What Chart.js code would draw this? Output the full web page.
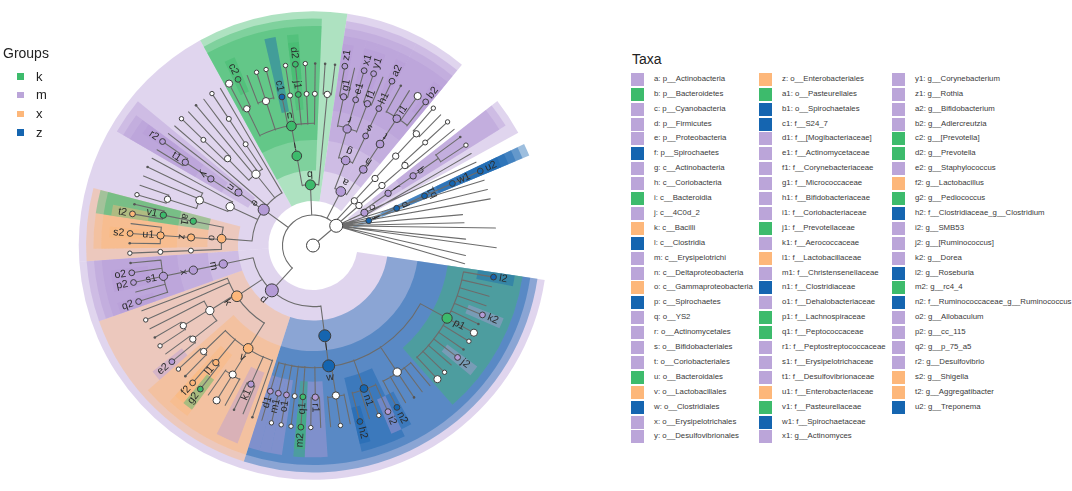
<!DOCTYPE html>
<html>
<head>
<meta charset="utf-8">
<script src="https://cdn.jsdelivr.net/npm/chart.js@4.4.1/dist/chart.umd.min.js"></script>
<style>
  html, body { margin:0; padding:0; background:#fff; }
  body { width:1072px; height:491px; position:relative; overflow:hidden; font-family:"Liberation Sans", Arial, sans-serif; }
  #cw { position:absolute; left:0; top:0; width:626px; height:491px; }
  .t { position:absolute; white-space:nowrap; }
  .sw { position:absolute; }
</style>
</head>
<body>
<div id="cw"><canvas id="clado" width="626" height="491"></canvas></div>
<div id="legends"></div>
<script>
// ---------------- data ----------------
const groupNames = ['k', 'm', 'x', 'z'];

const taxaCodes = ['a','b','c','d','e','f','g','h','i','j','k','l','m','n','o','p','q','r','s','t','u','v','w','x','y',
  'z','a1','b1','c1','d1','e1','f1','g1','h1','i1','j1','k1','l1','m1','n1','o1','p1','q1','r1','s1','t1','u1','v1','w1','x1',
  'y1','z1','a2','b2','c2','d2','e2','f2','g2','h2','i2','j2','k2','l2','m2','n2','o2','p2','q2','r2','s2','t2','u2'];

const taxaNames = ['p__Actinobacteria','p__Bacteroidetes','p__Cyanobacteria','p__Firmicutes','p__Proteobacteria','p__Spirochaetes',
  'c__Actinobacteria','c__Coriobacteria','c__Bacteroidia','c__4C0d_2','c__Bacilli','c__Clostridia','c__Erysipelotrichi',
  'c__Deltaproteobacteria','c__Gammaproteobacteria','c__Spirochaetes',
  'o__YS2','o__Actinomycetales','o__Bifidobacteriales','o__Coriobacteriales','o__Bacteroidales','o__Lactobacillales',
  'o__Clostridiales','o__Erysipelotrichales','o__Desulfovibrionales','o__Enterobacteriales','o__Pasteurellales','o__Spirochaetales',
  'f__S24_7','f__[Mogibacteriaceae]','f__Actinomycetaceae','f__Corynebacteriaceae','f__Micrococcaceae','f__Bifidobacteriaceae',
  'f__Coriobacteriaceae','f__Prevotellaceae','f__Aerococcaceae','f__Lactobacillaceae','f__Christensenellaceae','f__Clostridiaceae',
  'f__Dehalobacteriaceae','f__Lachnospiraceae','f__Peptococcaceae','f__Peptostreptococcaceae','f__Erysipelotrichaceae',
  'f__Desulfovibrionaceae','f__Enterobacteriaceae','f__Pasteurellaceae','f__Spirochaetaceae',
  'g__Actinomyces','g__Corynebacterium','g__Rothia','g__Bifidobacterium','g__Adlercreutzia','g__[Prevotella]','g__Prevotella',
  'g__Staphylococcus','g__Lactobacillus','g__Pediococcus','f__Clostridiaceae_g__Clostridium','g__SMB53','g__[Ruminococcus]',
  'g__Dorea','g__Roseburia','g__rc4_4','f__Ruminococcaceae_g__Ruminococcus','g__Allobaculum','g__cc_115','g__p_75_a5',
  'g__Desulfovibrio','g__Shigella','g__Aggregatibacter','g__Treponema'];

const taxaGroups = ['m','k','m','m','m','z',
  'm','m','k','m','x','z','m','m','x','z',
  'm','m','m','m','k','x','z','m','m','x','k','z',
  'z','m','m','m','m','m','m','k','m','x','m','z','m','k','k','m','m','m','x','k','z',
  'm','m','m','m','m','k','k','m','x','k','z','m','m','m','z','k','z','m','m','m','m','x','x','z'];

// Lineages (phylum/.../leaf), clockwise leaf order. Labelled tokens are taxa codes;
// unlabelled taxa: '*' non-biomarker node, '+' abundant non-biomarker, '.' rare, '-' not drawn
const lineages = [
  // Firmicutes - Clostridia
  'd/l/w/p1/l2','d/l/w/p1/-g1','d/l/w/p1/-g2','d/l/w/p1/-g3','d/l/w/p1/k2','d/l/w/p1/.g4','d/l/w/p1/+g5',
  'd/l/w/p1/*g6','d/l/w/p1/.g7','d/l/w/p1/j2','d/l/w/p1/-g8','d/l/w/p1/*g9','d/l/w/p1/+g10',
  'd/l/w/+Rum/-g1','d/l/w/+Rum/-g2','d/l/w/+Rum/.g3','d/l/w/+Rum/-g4','d/l/w/+Rum/n2',
  'd/l/w/n1/i2','d/l/w/n1/*g1','d/l/w/n1/-g2','d/l/w/n1/h2',
  'd/l/w/+Fa/-g1','d/l/w/+Fa/*g2','d/l/w/+Fa/-g3',
  'd/l/w/r1/-g1','d/l/w/r1/*g2',
  'd/l/w/q1/m2',
  'd/l/w/*Fb/*g1',
  'd/l/w/o1/*g1',
  'd/l/w/m1/*g1',
  'd/l/w/d1/-g1',
  // Firmicutes - Bacilli
  'd/k/v/-Car/.g1',
  'd/k/v/k1/-g1','d/k/v/k1/.g2',
  'd/k/v/+Str/-g1','d/k/v/+Str/+g2','d/k/v/+Str/-g3',
  'd/k/v/l1/g2','d/k/v/l1/f2',
  'd/k/v/*Ent/.g1','d/k/v/*Ent/*g2',
  'd/k/*Bac/*Sta/e2','d/k/*Bac/*Sta/-g1',
  'd/k/*Bac/*Bcc/*g1','d/k/*Bac/*Bcc/.g2',
  'd/k/*Bac/-Pla/-g1',
  'd/k/-Gem/-Gem/*g1',
  'd/k/-Tur/-Tur/-g1',
  // Firmicutes - Erysipelotrichi
  'd/m/x/s1/q2','d/m/x/s1/-g1','d/m/x/s1/p2','d/m/x/s1/o2','d/m/x/s1/.g2',
  // Proteobacteria
  'e/o/*Pse/*Mor/*g1',
  'e/o/z/u1/.g1','e/o/z/u1/s2','e/o/z/u1/-g2',
  'e/o/a1/v1/t2','e/o/a1/v1/.g1',
  'e/*Bet/*Bur/*Alc/*g1','e/*Bet/*Bur/*Alc/-g2','e/*Bet/*Bur/-Com/-g1','e/*Bet/*Bur/-Oxa/.g1','e/*Bet/-Nei/-Nei/-g1',
  'e/n/y/t1/-g1','e/n/y/t1/r2','e/n/-Des/-Des/-g1',
  'e/-Eps/-Cam/-Cam/-g1',
  'e/*Alp/*Rhi/*Bra/*g1','e/*Alp/*Rhi/-Bru/-g1','e/*Alp/-RF3/-f/.g1','e/*Alp/-Ric/-f/-g1','e/*Alp/*Sph/*f/*g1',
  'e/-TA1/-o/-f/-g1',
  // Bacteroidetes
  'b/i/u/+Par/+g1','b/i/u/+Par/c2',
  'b/i/u/*Por/-g1','b/i/u/*Por/*g2','b/i/u/*Por/*g3',
  'b/i/u/c1',
  'b/i/u/*Bac/*g1',
  'b/i/u/j1/d2',
  'b/i/u/*Rik/*g1',
  'b/i/u/*Odo/.g1',
  'b/-Fla/-o/*f/.g1','b/-Fla/-o/*f/.g2',
  // Actinobacteria
  'a/g/r/g1/z1','a/g/r/g1/-g1',
  'a/g/r/e1/x1',
  'a/g/r/f1/y1','a/g/r/f1/-g1',
  'a/g/s/h1/a2',
  'a/h/t/i1/.g1','a/h/t/i1/-g2','a/h/t/i1/+g3','a/h/t/i1/b2',
  // other phyla
  '*Ten/*c/*o/*f/*g1','*Ten/*c/*o/*f/-g2',
  '*Ver/*c/*o/*f/*g1','*Ver/*c/*o/-f2/-g1',
  'c/j/q/-f/.g1','c/j/q/-f/*g2','c/-Chl/-o/-f/-g1',
  '-TM7/-c/-o/-f/-g1',
  'f/p/b1/w1/u2',
  '-P1/-c/-o/-f/-g1','-P2/-c/-o/-f/-g1','-P3/-c/-o/-f/-g1','-P4/-c/-o/-f','-P5/-c/-o/-f',
  '-P6/-c/-o/-f/-g1','-P7/-c/-o/-f','-P8/-c/-o/-f/-g1','-P9/-c/-o/-f','-P10/-c/-o/-f'
];

// ---------------- styles / layout constants ----------------
const groupColors = { k:'#3dbb6c', m:'#b49bd6', x:'#fdb77a', z:'#1565b0' };
const SHADE_ALPHA = 0.42;
const LEVEL = 31.3;
const FIRST_LEAF_ANGLE = 10;
const OUTER = { 2:240, 3:232.5, 4:225, 5:217, 6:209 };
const INNER_OFFSET = 17;

function hexA(hex, a) {
  const n = parseInt(hex.slice(1), 16);
  return 'rgba(' + ((n >> 16) & 255) + ',' + ((n >> 8) & 255) + ',' + (n & 255) + ',' + a + ')';
}

// ---------------- build tree ----------------
const codeIndex = {};
taxaCodes.forEach((c, i) => codeIndex[c] = i);

function makeNode(token, depth, parent) {
  let kind, code = null, group = null;
  const p = token[0];
  if (p === '*') kind = 'white';
  else if (p === '+') kind = 'big';
  else if (p === '.') kind = 'dot';
  else if (p === '-') kind = 'hidden';
  else { kind = 'bio'; code = token; group = taxaGroups[codeIndex[token]]; }
  return { token, depth, parent, children: [], kind, code, group };
}

const root = makeNode('*root', 0, null);
const kingdom = makeNode('*Bacteria', 1, root);
root.children.push(kingdom);
const byPath = new Map();
const STEP = 360 / lineages.length;

lineages.forEach((lin, i) => {
  let parent = kingdom, path = '';
  lin.split('/').forEach((tok, j) => {
    path += '/' + tok;
    let nd = byPath.get(path);
    if (!nd) { nd = makeNode(tok, j + 2, parent); byPath.set(path, nd); parent.children.push(nd); }
    parent = nd;
  });
  parent.angle = FIRST_LEAF_ANGLE + i * STEP;
});

const allNodes = [];
function layout(nd) {
  allNodes.push(nd);
  nd.r = nd.depth * LEVEL;
  if (!nd.children.length) { nd.leaves = 1; nd.amin = nd.amax = nd.angle; }
  else {
    nd.children.forEach(layout);
    nd.angle = nd.children.reduce((s, c) => s + c.angle, 0) / nd.children.length;
    nd.leaves = nd.children.reduce((s, c) => s + c.leaves, 0);
    nd.amin = Math.min(...nd.children.map(c => c.amin));
    nd.amax = Math.max(...nd.children.map(c => c.amax));
  }
  if (nd.depth === 0) nd.angle = 0;
}
layout(root);

function nodeSize(nd) {
  if (nd.kind === 'hidden') return 0;
  if (nd.kind === 'dot') return 1.3;
  if (!nd.children.length) {
    if (nd.kind === 'big') return 3.6;
    if (nd.kind === 'white') return 2.2;
    return 2.9;
  }
  const s = Math.min(6.5, 2.5 + 0.7 * Math.log2(nd.leaves));
  return nd.kind === 'bio' ? Math.max(2.9, s) : s;
}
allNodes.forEach(nd => nd.size = nodeSize(nd));

function polar(r, deg) {
  const t = deg * Math.PI / 180;
  return { x: r * Math.cos(t), y: -r * Math.sin(t) };
}

// points for the scatter dataset
const visible = allNodes.filter(nd => nd.kind !== 'hidden').sort((a, b) => a.size - b.size);
const pts = visible.map(nd => polar(nd.r, nd.angle));
const radii = visible.map(nd => nd.size);
const fills = visible.map(nd => nd.kind === 'bio' ? groupColors[nd.group] : (nd.kind === 'dot' ? '#555' : '#fff'));
const strokes = visible.map(nd => nd.kind === 'dot' ? '#555' : '#3c3c3c');
const bws = visible.map(nd => nd.kind === 'dot' ? 0 : 1);

const bioNodes = allNodes.filter(nd => nd.kind === 'bio');
const shades = bioNodes.slice().sort((a, b) => a.depth - b.depth).map(nd => ({
  a0: nd.amin - STEP / 2, a1: nd.amax + STEP / 2,
  r0: nd.r - INNER_OFFSET, r1: OUTER[nd.depth], g: nd.group
}));

function chainEnd(nd) {
  let cur = nd;
  while (cur.kind === 'hidden' && cur.children.length === 1) cur = cur.children[0];
  return (cur.kind === 'hidden' && cur.children.length === 0) ? cur : nd;
}

// ---------------- plugin ----------------
const cladoPlugin = {
  id: 'clado',
  beforeDatasetsDraw(chart) {
    const ctx = chart.ctx, xs = chart.scales.x, ys = chart.scales.y;
    const cx = xs.getPixelForValue(0), cy = ys.getPixelForValue(0);
    const u = xs.getPixelForValue(1) - cx;
    const rad = d => d * Math.PI / 180;
    const P = (r, deg) => { const p = polar(r, deg); return [xs.getPixelForValue(p.x), ys.getPixelForValue(p.y)]; };
    ctx.save();
    shades.forEach(s => {
      ctx.beginPath();
      ctx.arc(cx, cy, s.r1 * u, rad(s.a0), rad(s.a1), false);
      ctx.arc(cx, cy, s.r0 * u, rad(s.a1), rad(s.a0), true);
      ctx.closePath();
      ctx.fillStyle = hexA(groupColors[s.g], SHADE_ALPHA);
      ctx.fill();
    });
    ctx.strokeStyle = '#6c6c6c';
    ctx.lineWidth = 1.1;
    ctx.lineCap = 'round';
    ctx.beginPath();
    const walk = nd => {
      nd.children.forEach(ch => {
        if (nd.depth === 0) {
          ctx.moveTo(...P(0, 0)); ctx.lineTo(...P(ch.r, ch.angle));
        } else if (nd.depth === 1 && ch.angle > nd.angle) {
          const end = chainEnd(ch);
          ctx.moveTo(...P(nd.r, nd.angle)); ctx.lineTo(...P(end.r, end.angle));
          if (end !== ch) return;
          return walk(ch);
        } else {
          const s = P(nd.r, nd.angle);
          ctx.moveTo(s[0], s[1]);
          if (Math.abs(ch.angle - nd.angle) > 1e-6)
            ctx.arc(cx, cy, nd.r * u, rad(nd.angle), rad(ch.angle), ch.angle < nd.angle);
          ctx.moveTo(...P(nd.r, ch.angle));
          ctx.lineTo(...P(ch.r, ch.angle));
        }
        walk(ch);
      });
    };
    walk(root);
    ctx.stroke();
    ctx.restore();
  },
  afterDatasetsDraw(chart) {
    const ctx = chart.ctx, xs = chart.scales.x, ys = chart.scales.y;
    const P = (r, deg) => { const p = polar(r, deg); return [xs.getPixelForValue(p.x), ys.getPixelForValue(p.y)]; };
    ctx.save();
    ctx.fillStyle = '#2a2a2a';
    ctx.font = '10.5px "Liberation Sans", Arial, sans-serif';
    ctx.textBaseline = 'middle';
    bioNodes.forEach(nd => {
      const t = nd.angle * Math.PI / 180;
      ctx.save();
      if (nd.depth <= 4) {
        const [x, y] = P(nd.r + nd.size + 6, nd.angle);
        ctx.translate(x, y);
        ctx.rotate(t - Math.PI / 2);
        ctx.textAlign = 'center';
      } else {
        const [x, y] = P(nd.r + nd.size + 3, nd.angle);
        const right = Math.cos(t) >= 0;
        ctx.translate(x, y);
        ctx.rotate(right ? t : t + Math.PI);
        ctx.textAlign = right ? 'left' : 'right';
      }
      ctx.fillText(nd.code, 0, 0);
      ctx.restore();
    });
    ctx.restore();
  }
};

new Chart(document.getElementById('clado'), {
  type: 'scatter',
  data: { datasets: [{
    data: pts,
    pointRadius: radii, pointHoverRadius: radii,
    pointBackgroundColor: fills, pointBorderColor: strokes, pointBorderWidth: bws,
    showLine: false, clip: false
  }] },
  options: {
    responsive: false, animation: false, events: [],
    layout: { padding: 0 },
    scales: {
      x: { type: 'linear', min: -313, max: 313, display: false },
      y: { type: 'linear', min: -245.5, max: 245.5, display: false }
    },
    plugins: { legend: { display: false }, tooltip: { enabled: false } }
  },
  plugins: [cladoPlugin]
});

// ---------------- HTML legends ----------------
const legendColors = { k:'#3dbb6c', m:'#bba5d9', x:'#fdb77a', z:'#1565b0' };
const L = document.getElementById('legends');
function addDiv(cls, css, text) {
  const d = document.createElement('div');
  d.className = cls;
  Object.assign(d.style, css);
  if (text !== undefined) d.textContent = text;
  L.appendChild(d);
}
addDiv('t', { left:'3px', top:'46px', fontSize:'14px', lineHeight:'14px', color:'#222' }, 'Groups');
groupNames.forEach((g, i) => {
  const base = 80.7 + i * 18.7;
  addDiv('sw', { left:'17px', top:(base - 7.6) + 'px', width:'6.5px', height:'6.5px', background:legendColors[g] });
  addDiv('t', { left:'36px', top:(base - 11) + 'px', fontSize:'13px', lineHeight:'13px', color:'#222' }, g);
});
addDiv('t', { left:'632px', top:'51.5px', fontSize:'14px', lineHeight:'14px', color:'#222' }, 'Taxa');
const colSw = [631, 759, 892], colTx = [654, 782, 915];
taxaCodes.forEach((c, i) => {
  const col = i < 25 ? 0 : (i < 50 ? 1 : 2);
  const row = i - col * 25;
  const cy = 79.3 + row * 14.9;
  addDiv('sw', { left:colSw[col] + 'px', top:(cy - 6.5) + 'px', width:'13.3px', height:'13px', background:legendColors[taxaGroups[i]] });
  addDiv('t', { left:colTx[col] + 'px', top:(cy - 7.45) + 'px', fontSize:'7.8px', lineHeight:'14.9px', color:'#3a3a3a' }, c + ': ' + taxaNames[i]);
});
</script>
</body>
</html>
